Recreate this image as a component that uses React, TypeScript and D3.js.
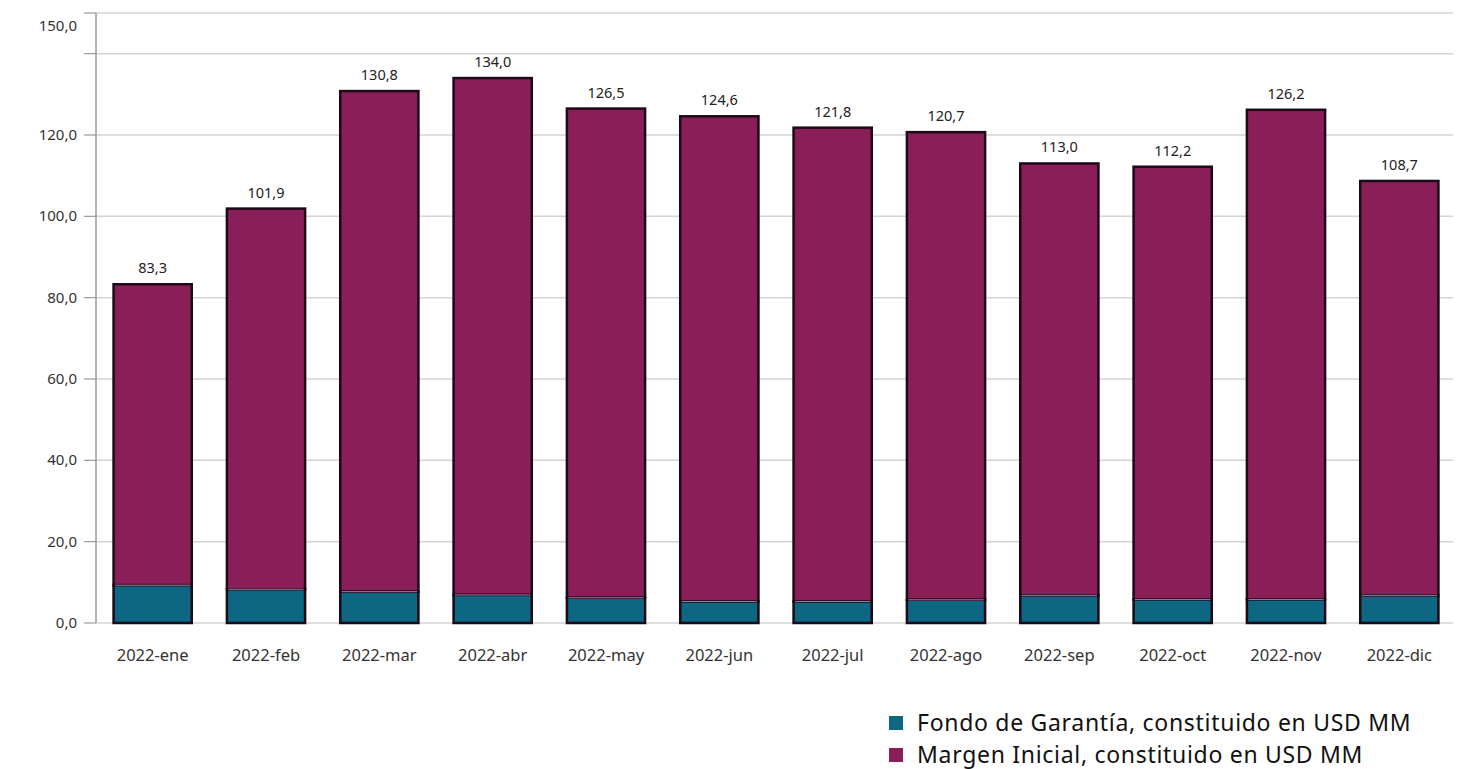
import React from "react";
import * as d3 from "d3";

const categories = ["2022-ene","2022-feb","2022-mar","2022-abr","2022-may","2022-jun","2022-jul","2022-ago","2022-sep","2022-oct","2022-nov","2022-dic"];
const totals = [83.3,101.9,130.8,134.0,126.5,124.6,121.8,120.7,113.0,112.2,126.2,108.7];
const fondo = [9.3,8.3,7.7,6.9,6.2,5.3,5.3,5.7,6.8,5.8,5.8,6.8];
const margen = totals.map((t, i) => +(t - fondo[i]).toFixed(1));
const yTickLabels = [0,20,40,60,80,100,120,150];
const gridValues = [0,20,40,60,80,100,120,140,150];

const TEAL = "#0d6682";
const MAGENTA = "#8a1e59";
const OUTLINE = "#1d0a16";

export default function App() {
  const W = 1469, H = 769;
  const x0 = 96, x1 = 1456, yTop = 13, yBot = 623;
  const x = d3.scaleBand().domain(categories).range([x0, x1]).paddingInner(0.31).paddingOuter(0.155);
  const y = d3.scaleLinear().domain([0, 150]).range([yBot, yTop]);
  const fmt = (v: number) => v.toFixed(1).replace(".", ",");
  const font = "'Noto Sans', sans-serif";
  return (
    <svg width={W} height={H} style={{ position: "absolute", left: 0, top: 0, background: "#fff" }}>
      {gridValues.map(v => (
        <g key={v}>
          <line x1={x0} x2={1453} y1={y(v)} y2={y(v)} stroke="#d4d4d4" strokeWidth={1.5} />
          <line x1={84} x2={x0} y1={y(v)} y2={y(v)} stroke="#9a9a9a" strokeWidth={1.2} />
        </g>
      ))}
      <line x1={x0} x2={x0} y1={yTop} y2={yBot} stroke="#9a9a9a" strokeWidth={1.5} />
      {yTickLabels.map(v => (
        <text key={v} x={77} y={(v === 150 ? y(v) + 13 : y(v)) + 5} textAnchor="end" fontFamily={font} fontSize={15} fill="#333">{fmt(v)}</text>
      ))}
      {categories.map((c, i) => {
        const bx = x(c)!;
        const bw = x.bandwidth();
        return (
          <g key={c}>
            <rect x={bx} y={y(totals[i])} width={bw} height={y(fondo[i]) - y(totals[i])} fill={MAGENTA} stroke={OUTLINE} strokeWidth={2.5} />
            <rect x={bx} y={y(fondo[i])} width={bw} height={y(0) - y(fondo[i])} fill={TEAL} stroke={OUTLINE} strokeWidth={2.5} />
            <line x1={bx + 1.5} x2={bx + bw - 1.5} y1={y(fondo[i])} y2={y(fondo[i])} stroke="#b07aa6" strokeWidth={1} />
            <text x={bx + bw / 2} y={y(totals[i]) - 11} textAnchor="middle" fontFamily={font} fontSize={14.5} fill="#222">{fmt(totals[i])}</text>
            <text x={bx + bw / 2} y={661} textAnchor="middle" fontFamily={font} fontSize={16.5} fill="#333">{c}</text>
          </g>
        );
      })}
      <rect x={889} y={716} width={14} height={14} fill={TEAL} />
      <text x={917} y={731} fontFamily={font} fontSize={23} letterSpacing={0.7} fill="#111">Fondo de Garantía, constituido en USD MM</text>
      <rect x={889} y={748} width={14} height={14} fill={MAGENTA} />
      <text x={917} y={763} fontFamily={font} fontSize={23} letterSpacing={0.7} fill="#111">Margen Inicial, constituido en USD MM</text>
    </svg>
  );
}
